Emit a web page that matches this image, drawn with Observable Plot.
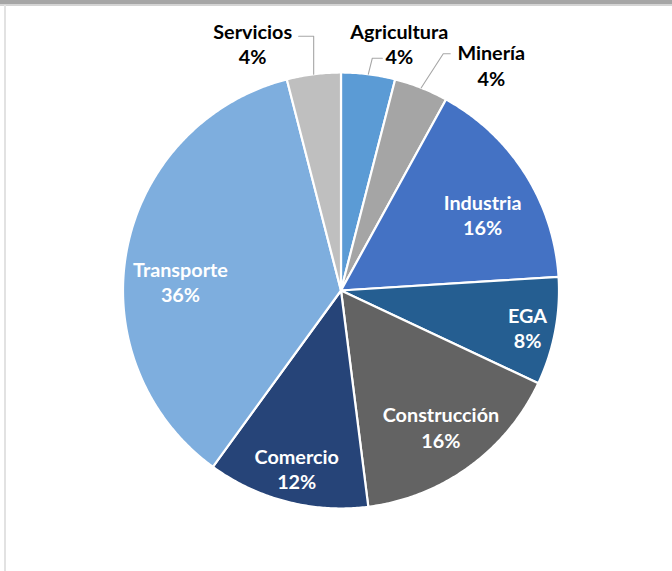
<!DOCTYPE html>
<html>
<head>
<meta charset="utf-8">
<script src="https://cdn.jsdelivr.net/npm/d3@7"></script>
<script src="https://cdn.jsdelivr.net/npm/@observablehq/plot@0.6"></script>
<style>
  body { margin: 0; background: #fff; }
  #wrap { position: relative; width: 672px; height: 571px; overflow: hidden; background: #fff; }
  #wrap svg { position: absolute; left: 0; top: 0; }
  .topbar { position: absolute; left: 0; top: 0; width: 672px; height: 4px; background: #a6a6a6; }
  .topline { position: absolute; left: 0; top: 4px; width: 672px; height: 2px; background: #d4d4d4; }
  .leftline { position: absolute; left: 4px; top: 5px; width: 2px; height: 566px; background: #e2e2e2; }
</style>
</head>
<body>
<div id="wrap"></div>
<script>
// ---- data ----
const categories = ["Agricultura", "Minería", "Industria", "EGA", "Construcción", "Comercio", "Transporte", "Servicios"];
const shares = [4, 4, 16, 8, 16, 12, 36, 4];

// ---- styles / layout (kept apart from the data) ----
const palette = ["#5B9BD5", "#A5A5A5", "#4472C4", "#255E91", "#636363", "#264478", "#7EAEDE", "#BFBFBF"];
const outsideLabel = [true, true, false, false, false, false, false, true];
// pixel nudges of the label blocks from their anchor (inside: centroid at 0.78 r; outside: arc point)
const labelNudge = [[31, -31], [70, -23], [-2, 15], [19.5, 5], [0, -1.5], [-2, 13], [6.5, 22.5], [-61, -31]];
// leader-line elbows (pixel offsets from the arc point) for outside labels
const leaderNudge = [[[4, -16], [14, -16]], [[22, -34], [29, -34]], null, null, null, null, null, [[0, -38], [-15, -38]]];

const W = 672, H = 571, CX = 340.5, CY = 290, R = 218;

// ---- pie geometry in unit space (angle from top, clockwise) ----
const total = d3.sum(shares);
let acc = 0;
const slices = categories.map((name, i) => {
  const a0 = acc / total * 2 * Math.PI;
  acc += shares[i];
  const a1 = acc / total * 2 * Math.PI;
  return { name, share: shares[i], color: palette[i], a0, a1, mid: (a0 + a1) / 2, i };
});

const slicePts = [];
for (const s of slices) {
  slicePts.push({ name: s.name, color: s.color, x: 0, y: 0 });
  const n = Math.max(2, Math.ceil((s.a1 - s.a0) / (Math.PI / 360)));
  for (let k = 0; k <= n; k++) {
    const a = s.a0 + (s.a1 - s.a0) * k / n;
    slicePts.push({ name: s.name, color: s.color, x: Math.sin(a), y: Math.cos(a) });
  }
  slicePts.push({ name: s.name, color: s.color, x: 0, y: 0 });
}

const labels = slices.map(s => {
  const k = outsideLabel[s.i] ? 1 : 0.78;
  const [nx, ny] = labelNudge[s.i];
  return {
    text: `${s.name}\n${s.share}%`,
    x: k * Math.sin(s.mid) + nx / R,
    y: k * Math.cos(s.mid) - ny / R,
    fill: outsideLabel[s.i] ? "#000000" : "#ffffff"
  };
});

const leaderPts = [];
for (const s of slices) {
  if (!outsideLabel[s.i]) continue;
  const px = Math.sin(s.mid), py = Math.cos(s.mid);
  leaderPts.push({ name: s.name, x: px, y: py });
  for (const [ox, oy] of leaderNudge[s.i]) leaderPts.push({ name: s.name, x: px + ox / R, y: py - oy / R });
}

const chart = Plot.plot({
  width: W,
  height: H,
  margin: 0,
  style: { fontFamily: "Lato, 'Open Sans', sans-serif", background: "transparent" },
  x: { domain: [-CX / R, (W - CX) / R], axis: null },
  y: { domain: [-(H - CY) / R, CY / R], axis: null },
  color: { type: "identity" },
  marks: [
    Plot.line(slicePts, { x: "x", y: "y", z: "name", fill: "color", stroke: "#ffffff", strokeWidth: 2.2, strokeLinejoin: "round", curve: "linear" }),
    Plot.line(leaderPts, { x: "x", y: "y", z: "name", stroke: "#a6a6a6", strokeWidth: 1.1, curve: "linear" }),
    Plot.text(labels, { x: "x", y: "y", text: "text", fill: "fill", fontSize: 19.8, fontWeight: 700, lineHeight: 1.3 })
  ]
});

const wrap = document.getElementById("wrap");
wrap.appendChild(chart);
for (const cls of ["topbar", "topline", "leftline"]) {
  const d = document.createElement("div");
  d.className = cls;
  wrap.appendChild(d);
}
</script>
</body>
</html>
